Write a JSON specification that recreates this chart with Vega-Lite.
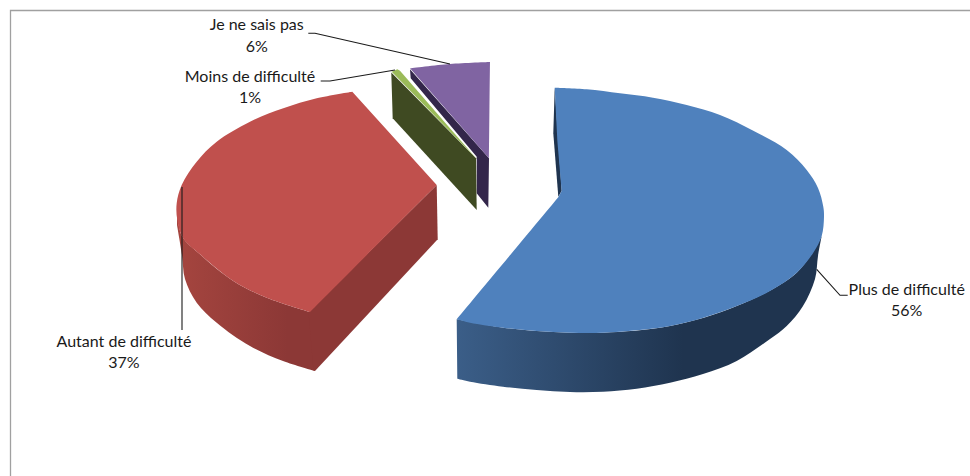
{
  "$schema": "https://vega.github.io/schema/vega-lite/v6.json",
  "width": 970,
  "height": 476,
  "padding": 0,
  "autosize": "none",
  "background": "#ffffff",
  "view": {"stroke": null},
  "datasets": {
    "faces": [
      {"face": "bleu-cote-avant", "ordre": 1, "x": 456.7, "y": 319.3},
      {"face": "bleu-cote-avant", "ordre": 1.5, "x": 456.7, "y": 319.3},
      {"face": "bleu-cote-avant", "ordre": 2, "x": 503.3, "y": 327.7},
      {"face": "bleu-cote-avant", "ordre": 3, "x": 536.7, "y": 331},
      {"face": "bleu-cote-avant", "ordre": 4, "x": 570, "y": 332.7},
      {"face": "bleu-cote-avant", "ordre": 5, "x": 603.3, "y": 332.7},
      {"face": "bleu-cote-avant", "ordre": 6, "x": 670, "y": 326},
      {"face": "bleu-cote-avant", "ordre": 7, "x": 736.7, "y": 306},
      {"face": "bleu-cote-avant", "ordre": 8, "x": 796.7, "y": 272.7},
      {"face": "bleu-cote-avant", "ordre": 9, "x": 821.7, "y": 236},
      {"face": "bleu-cote-avant", "ordre": 9.5, "x": 821.7, "y": 236},
      {"face": "bleu-cote-avant", "ordre": 10, "x": 818, "y": 256},
      {"face": "bleu-cote-avant", "ordre": 11, "x": 815, "y": 279},
      {"face": "bleu-cote-avant", "ordre": 12, "x": 803, "y": 306},
      {"face": "bleu-cote-avant", "ordre": 13, "x": 786.7, "y": 326},
      {"face": "bleu-cote-avant", "ordre": 14, "x": 770, "y": 339},
      {"face": "bleu-cote-avant", "ordre": 15, "x": 736.7, "y": 361},
      {"face": "bleu-cote-avant", "ordre": 16, "x": 703, "y": 374},
      {"face": "bleu-cote-avant", "ordre": 17, "x": 670, "y": 382.7},
      {"face": "bleu-cote-avant", "ordre": 18, "x": 636.7, "y": 388.7},
      {"face": "bleu-cote-avant", "ordre": 19, "x": 603, "y": 391.7},
      {"face": "bleu-cote-avant", "ordre": 20, "x": 570, "y": 392},
      {"face": "bleu-cote-avant", "ordre": 21, "x": 536.7, "y": 390},
      {"face": "bleu-cote-avant", "ordre": 22, "x": 503, "y": 386.7},
      {"face": "bleu-cote-avant", "ordre": 23, "x": 470, "y": 381.7},
      {"face": "bleu-cote-avant", "ordre": 24, "x": 457.3, "y": 378.7},

      {"face": "rouge-cote-avant", "ordre": 1, "x": 177, "y": 210},
      {"face": "rouge-cote-avant", "ordre": 2, "x": 182, "y": 236},
      {"face": "rouge-cote-avant", "ordre": 3, "x": 200, "y": 254.3},
      {"face": "rouge-cote-avant", "ordre": 4, "x": 233.3, "y": 281},
      {"face": "rouge-cote-avant", "ordre": 5, "x": 266.7, "y": 297.7},
      {"face": "rouge-cote-avant", "ordre": 6, "x": 310, "y": 312},
      {"face": "rouge-cote-avant", "ordre": 6.5, "x": 310, "y": 312},
      {"face": "rouge-cote-avant", "ordre": 6.7, "x": 315, "y": 371},
      {"face": "rouge-cote-avant", "ordre": 7, "x": 315, "y": 371},
      {"face": "rouge-cote-avant", "ordre": 8, "x": 283, "y": 361},
      {"face": "rouge-cote-avant", "ordre": 9, "x": 250, "y": 346},
      {"face": "rouge-cote-avant", "ordre": 10, "x": 216.7, "y": 322.7},
      {"face": "rouge-cote-avant", "ordre": 11, "x": 196.7, "y": 302.7},
      {"face": "rouge-cote-avant", "ordre": 12, "x": 185, "y": 279},
      {"face": "rouge-cote-avant", "ordre": 13, "x": 182, "y": 255},
      {"face": "rouge-cote-avant", "ordre": 14, "x": 177, "y": 225},

      {"face": "violet-cote", "ordre": 1, "x": 410, "y": 69.3},
      {"face": "violet-cote", "ordre": 2, "x": 489, "y": 158.3},
      {"face": "violet-cote", "ordre": 3, "x": 488.3, "y": 207.7},
      {"face": "violet-cote", "ordre": 4, "x": 476.7, "y": 193.3},
      {"face": "violet-cote", "ordre": 5, "x": 476.7, "y": 156.7},
      {"face": "violet-cote", "ordre": 6, "x": 410.7, "y": 78.3},

      {"face": "vert-cote", "ordre": 1, "x": 391.3, "y": 72.5},
      {"face": "vert-cote", "ordre": 2, "x": 392.7, "y": 118.3},
      {"face": "vert-cote", "ordre": 3, "x": 476.7, "y": 210},
      {"face": "vert-cote", "ordre": 4, "x": 476, "y": 158.3},

      {"face": "vert-dessus", "ordre": 1, "x": 391.7, "y": 71.7},
      {"face": "vert-dessus", "ordre": 2, "x": 397.3, "y": 69.3},
      {"face": "vert-dessus", "ordre": 3, "x": 400, "y": 70.7},
      {"face": "vert-dessus", "ordre": 4, "x": 476, "y": 158.3},

      {"face": "rouge-cote-coupe", "ordre": 1, "x": 308.5, "y": 312},
      {"face": "rouge-cote-coupe", "ordre": 2, "x": 436.7, "y": 185},
      {"face": "rouge-cote-coupe", "ordre": 3, "x": 437.7, "y": 239.3},
      {"face": "rouge-cote-coupe", "ordre": 4, "x": 315, "y": 371},
      {"face": "rouge-cote-coupe", "ordre": 5, "x": 313.5, "y": 370.5},

      {"face": "bleu-cote-arriere", "ordre": 1, "x": 554.7, "y": 87.7},
      {"face": "bleu-cote-arriere", "ordre": 2, "x": 553.3, "y": 133.3},
      {"face": "bleu-cote-arriere", "ordre": 3, "x": 558.3, "y": 196.7},
      {"face": "bleu-cote-arriere", "ordre": 4, "x": 561.7, "y": 190.7},

      {"face": "violet-dessus", "ordre": 1, "x": 410, "y": 68.3},
      {"face": "violet-dessus", "ordre": 1.5, "x": 410, "y": 68.3},
      {"face": "violet-dessus", "ordre": 2, "x": 450, "y": 64},
      {"face": "violet-dessus", "ordre": 3, "x": 490, "y": 62},
      {"face": "violet-dessus", "ordre": 3.5, "x": 490, "y": 62},
      {"face": "violet-dessus", "ordre": 4, "x": 489, "y": 158.3},
      {"face": "violet-dessus", "ordre": 5, "x": 489, "y": 158.3},

      {"face": "rouge-dessus", "ordre": 1, "x": 352.3, "y": 91.7},
      {"face": "rouge-dessus", "ordre": 2, "x": 316.7, "y": 98.3},
      {"face": "rouge-dessus", "ordre": 3, "x": 283.3, "y": 108.3},
      {"face": "rouge-dessus", "ordre": 4, "x": 250, "y": 121.7},
      {"face": "rouge-dessus", "ordre": 5, "x": 216.7, "y": 141.7},
      {"face": "rouge-dessus", "ordre": 6, "x": 196.7, "y": 161.7},
      {"face": "rouge-dessus", "ordre": 7, "x": 181.7, "y": 185},
      {"face": "rouge-dessus", "ordre": 8, "x": 176.7, "y": 203.3},
      {"face": "rouge-dessus", "ordre": 9, "x": 177.3, "y": 220},
      {"face": "rouge-dessus", "ordre": 10, "x": 183, "y": 238},
      {"face": "rouge-dessus", "ordre": 11, "x": 200, "y": 254.3},
      {"face": "rouge-dessus", "ordre": 12, "x": 233.3, "y": 281},
      {"face": "rouge-dessus", "ordre": 13, "x": 266.7, "y": 297.7},
      {"face": "rouge-dessus", "ordre": 14, "x": 310, "y": 312},
      {"face": "rouge-dessus", "ordre": 14.5, "x": 310, "y": 312},
      {"face": "rouge-dessus", "ordre": 15, "x": 436.7, "y": 185},
      {"face": "rouge-dessus", "ordre": 15.5, "x": 436.7, "y": 185},

      {"face": "bleu-dessus", "ordre": 1, "x": 554.7, "y": 87.7},
      {"face": "bleu-dessus", "ordre": 2, "x": 586.7, "y": 89.3},
      {"face": "bleu-dessus", "ordre": 3, "x": 620, "y": 93.3},
      {"face": "bleu-dessus", "ordre": 4, "x": 653, "y": 97.7},
      {"face": "bleu-dessus", "ordre": 5, "x": 686.7, "y": 105},
      {"face": "bleu-dessus", "ordre": 6, "x": 720, "y": 115},
      {"face": "bleu-dessus", "ordre": 7, "x": 753.3, "y": 130.7},
      {"face": "bleu-dessus", "ordre": 8, "x": 786.7, "y": 150},
      {"face": "bleu-dessus", "ordre": 9, "x": 806.7, "y": 170},
      {"face": "bleu-dessus", "ordre": 10, "x": 818, "y": 188},
      {"face": "bleu-dessus", "ordre": 11, "x": 823.3, "y": 206.7},
      {"face": "bleu-dessus", "ordre": 12, "x": 824, "y": 216.7},
      {"face": "bleu-dessus", "ordre": 13, "x": 821.7, "y": 236},
      {"face": "bleu-dessus", "ordre": 14, "x": 813.3, "y": 252.7},
      {"face": "bleu-dessus", "ordre": 15, "x": 796.7, "y": 272.7},
      {"face": "bleu-dessus", "ordre": 16, "x": 770, "y": 291},
      {"face": "bleu-dessus", "ordre": 17, "x": 736.7, "y": 306},
      {"face": "bleu-dessus", "ordre": 18, "x": 703.3, "y": 317.7},
      {"face": "bleu-dessus", "ordre": 19, "x": 670, "y": 326},
      {"face": "bleu-dessus", "ordre": 20, "x": 636.7, "y": 330.3},
      {"face": "bleu-dessus", "ordre": 21, "x": 603.3, "y": 332.7},
      {"face": "bleu-dessus", "ordre": 22, "x": 570, "y": 332.7},
      {"face": "bleu-dessus", "ordre": 23, "x": 536.7, "y": 331},
      {"face": "bleu-dessus", "ordre": 24, "x": 503.3, "y": 327.7},
      {"face": "bleu-dessus", "ordre": 25, "x": 470, "y": 322.7},
      {"face": "bleu-dessus", "ordre": 26, "x": 456.7, "y": 319.3},
      {"face": "bleu-dessus", "ordre": 26.5, "x": 456.7, "y": 319.3},
      {"face": "bleu-dessus", "ordre": 27, "x": 558.3, "y": 197.3},
      {"face": "bleu-dessus", "ordre": 27.5, "x": 558.3, "y": 197.3},
      {"face": "bleu-dessus", "ordre": 28, "x": 561.7, "y": 190.7},
      {"face": "bleu-dessus", "ordre": 28.5, "x": 561.7, "y": 190.7},
      {"face": "bleu-dessus", "ordre": 29, "x": 557.3, "y": 140}
    ],
    "traits": [
      {"trait": "cadre", "ordre": 1, "x": 970, "y": 10.5},
      {"trait": "cadre", "ordre": 2, "x": 10.5, "y": 10.5},
      {"trait": "cadre", "ordre": 3, "x": 10.5, "y": 476},
      {"trait": "Je ne sais pas", "ordre": 1, "x": 308.3, "y": 33.3},
      {"trait": "Je ne sais pas", "ordre": 2, "x": 315, "y": 33.3},
      {"trait": "Je ne sais pas", "ordre": 3, "x": 450, "y": 64},
      {"trait": "Moins de difficulté", "ordre": 1, "x": 320.7, "y": 81},
      {"trait": "Moins de difficulté", "ordre": 2, "x": 330, "y": 81},
      {"trait": "Moins de difficulté", "ordre": 3, "x": 395, "y": 70},
      {"trait": "Autant de difficulté", "ordre": 1, "x": 182, "y": 187},
      {"trait": "Autant de difficulté", "ordre": 2, "x": 182, "y": 330},
      {"trait": "Plus de difficulté", "ordre": 1, "x": 816.7, "y": 269.3},
      {"trait": "Plus de difficulté", "ordre": 2, "x": 840, "y": 295.3},
      {"trait": "Plus de difficulté", "ordre": 3, "x": 847.7, "y": 295.3}
    ],
    "reponses": [
      {"reponse": "Plus de difficulté", "part": 0.56, "x": 906.7, "yNom": 295.3, "yPart": 316},
      {"reponse": "Autant de difficulté", "part": 0.37, "x": 124, "yNom": 347, "yPart": 368},
      {"reponse": "Moins de difficulté", "part": 0.01, "x": 250, "yNom": 82.3, "yPart": 102.7},
      {"reponse": "Je ne sais pas", "part": 0.06, "x": 256.7, "yNom": 30, "yPart": 51.7}
    ]
  },
  "data": {"name": "faces"},
  "encoding": {
    "x": {"field": "x", "type": "quantitative", "scale": {"domain": [0, 970]}, "axis": null},
    "order": {"field": "ordre", "type": "quantitative"}
  },
  "layer": [
    {
      "transform": [{"filter": "datum.face === 'bleu-cote-avant'"}],
      "mark": {
        "type": "line",
        "interpolate": "catmull-rom",
        "strokeWidth": 0,
        "fill": {
          "gradient": "linear",
          "x1": 0, "y1": 0, "x2": 1, "y2": 0,
          "stops": [
            {"offset": 0, "color": "#3b5e88"},
            {"offset": 0.62, "color": "#1f344f"},
            {"offset": 1, "color": "#1f344f"}
          ]
        }
      },
      "encoding": {
        "y": {"field": "y", "type": "quantitative", "scale": {"domain": [476, 0]}, "axis": null}
      }
    },
    {
      "transform": [{"filter": "datum.face === 'rouge-cote-avant'"}],
      "mark": {
        "type": "line",
        "interpolate": "catmull-rom",
        "strokeWidth": 0,
        "fill": {
          "gradient": "linear",
          "x1": 0, "y1": 0, "x2": 1, "y2": 0,
          "stops": [
            {"offset": 0, "color": "#a5453f"},
            {"offset": 0.8, "color": "#8c3836"},
            {"offset": 1, "color": "#8c3836"}
          ]
        }
      },
      "encoding": {
        "y": {"field": "y", "type": "quantitative", "scale": {"domain": [476, 0]}, "axis": null}
      }
    },
    {
      "transform": [{"filter": "indexof(['violet-cote', 'vert-cote', 'vert-dessus', 'rouge-cote-coupe', 'bleu-cote-arriere'], datum.face) >= 0"}],
      "mark": {"type": "line", "strokeWidth": 0},
      "encoding": {
        "y": {"field": "y", "type": "quantitative", "scale": {"domain": [476, 0]}, "axis": null},
        "fill": {
          "field": "face",
          "type": "nominal",
          "legend": null,
          "scale": {
            "domain": ["violet-cote", "violet-dessus", "vert-cote", "vert-dessus", "rouge-cote-coupe", "rouge-dessus", "bleu-cote-arriere", "bleu-dessus"],
            "range": ["#33264a", "#8064a2", "#3f4a22", "#9bbb59", "#8c3836", "#c0504d", "#1f344f", "#4f81bd"]
          }
        }
      }
    },
    {
      "transform": [{"filter": "indexof(['violet-dessus', 'rouge-dessus', 'bleu-dessus'], datum.face) >= 0"}],
      "mark": {"type": "line", "interpolate": "catmull-rom", "strokeWidth": 0},
      "encoding": {
        "y": {"field": "y", "type": "quantitative", "scale": {"domain": [476, 0]}, "axis": null},
        "fill": {
          "field": "face",
          "type": "nominal",
          "legend": null,
          "scale": {
            "domain": ["violet-cote", "violet-dessus", "vert-cote", "vert-dessus", "rouge-cote-coupe", "rouge-dessus", "bleu-cote-arriere", "bleu-dessus"],
            "range": ["#33264a", "#8064a2", "#3f4a22", "#9bbb59", "#8c3836", "#c0504d", "#1f344f", "#4f81bd"]
          }
        }
      }
    },
    {
      "data": {"name": "traits"},
      "mark": {"type": "line"},
      "encoding": {
        "y": {"field": "y", "type": "quantitative", "scale": {"domain": [476, 0]}, "axis": null},
        "detail": {"field": "trait", "type": "nominal"},
        "stroke": {
          "condition": {"test": "datum.trait === 'cadre'", "value": "#a0a0a0"},
          "value": "#1a1a1a"
        },
        "strokeWidth": {
          "condition": {"test": "datum.trait === 'cadre'", "value": 1.3},
          "value": 1.1
        }
      }
    },
    {
      "data": {"name": "reponses"},
      "mark": {"type": "text", "font": "Lato", "fontSize": 16, "align": "center", "baseline": "alphabetic", "color": "#1a1a1a"},
      "encoding": {
        "y": {"field": "yNom", "type": "quantitative", "scale": {"domain": [476, 0]}, "axis": null},
        "text": {"field": "reponse", "type": "nominal"}
      }
    },
    {
      "data": {"name": "reponses"},
      "mark": {"type": "text", "font": "Lato", "fontSize": 16, "align": "center", "baseline": "alphabetic", "color": "#1a1a1a"},
      "encoding": {
        "y": {"field": "yPart", "type": "quantitative", "scale": {"domain": [476, 0]}, "axis": null},
        "text": {"field": "part", "type": "quantitative", "format": ".0%"}
      }
    }
  ]
}
